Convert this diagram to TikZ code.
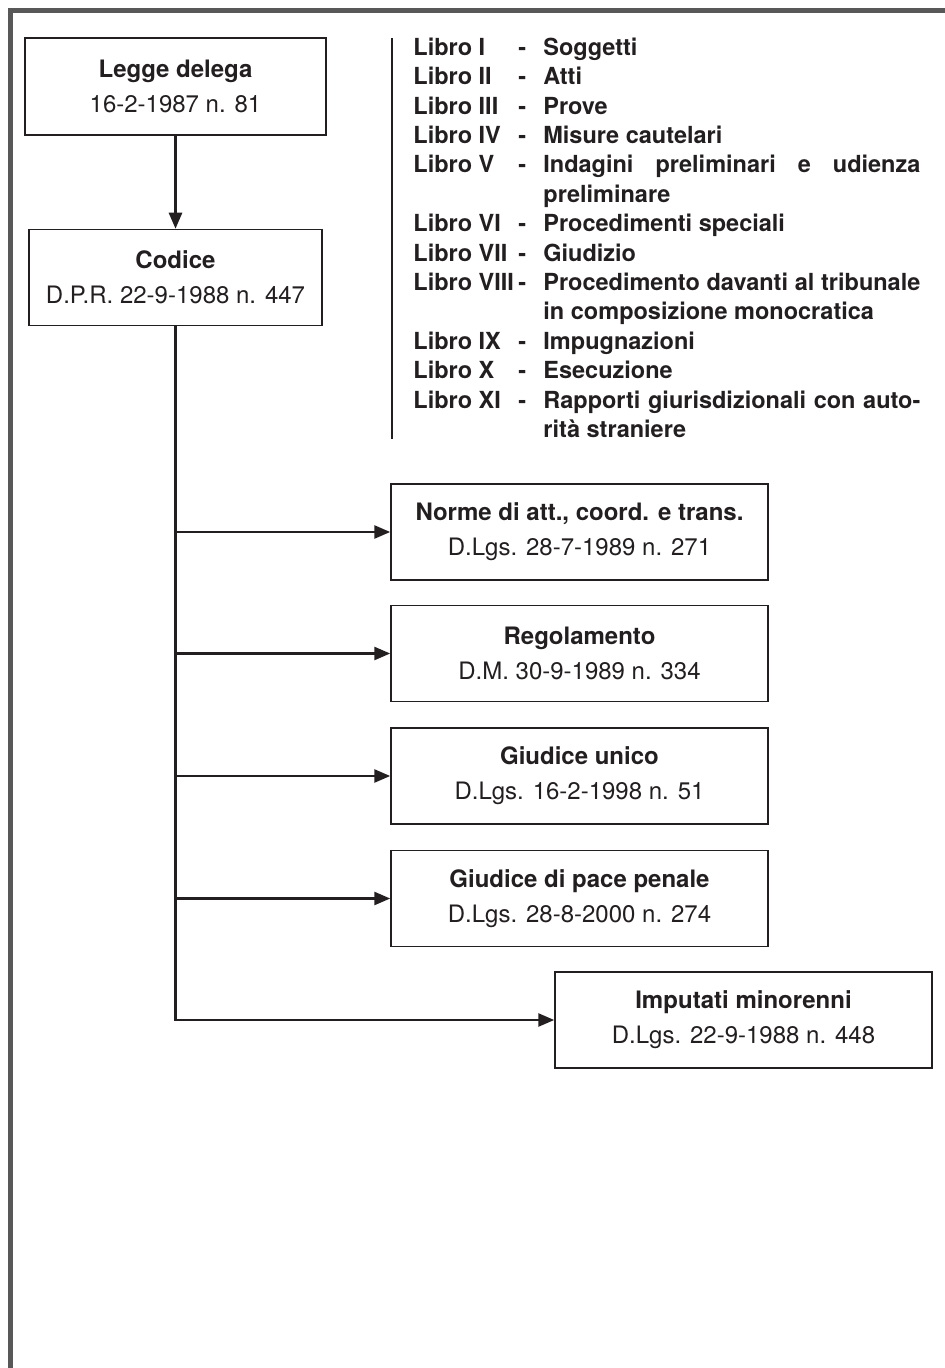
\documentclass[tikz,border=0pt]{standalone}
\usepackage{fontspec}
\setmainfont{TeX Gyre Heros}
\usetikzlibrary{arrows.meta, positioning}
\definecolor{framegray}{RGB}{88, 88, 88}
\definecolor{inkblack}{RGB}{35, 31, 32}

\newcommand{\rigapiena}[1]{\makebox[188.5pt][s]{#1}}

\begin{document}
\begin{tikzpicture}[
    x=0.5pt, y=-0.5pt,
    node distance=12pt and 10pt,
    legbox/.style={draw=inkblack, line width=0.75pt, fill=white, text=inkblack, align=center, font=\fontsize{12}{17.5}\selectfont, minimum width=188.5pt, minimum height=48pt, inner sep=0pt},
    booklist/.style={anchor=north west, inner sep=0pt, text=inkblack, font=\fontsize{11.75}{14.7}\selectfont\bfseries},
    arrow/.style={-{Triangle[length=8pt, width=6.5pt]}, line width=1.3pt, inkblack},
    bar/.style={line width=1pt, inkblack},
    frame/.style={line width=2.5pt, framegray}
]

\useasboundingbox (0,0) rectangle (945,1368);

% Page frame
\draw [frame] (10.7,1368) -- (10.7,10.7) -- (945,10.7);

% 1. Legge delega e Codice
\node (legge) [legbox, minimum width=150.5pt, minimum height=48.5pt] at (175.5,86.5) {\textbf{Legge delega}\\16-2-1987 n. 81};
\node (codice) [legbox, minimum width=146.5pt, below=46.5pt of legge] {\textbf{Codice}\\D.P.R. 22-9-1988 n. 447};

% 2. Libri del codice
\node (libri) [booklist] at (413,34.4) {%
  \begin{tabular}{@{}p{52.5pt}@{}p{12.5pt}@{}l@{}}
  Libro I    & - & Soggetti\\
  Libro II   & - & Atti\\
  Libro III  & - & Prove\\
  Libro IV   & - & Misure cautelari\\
  Libro V    & - & \rigapiena{Indagini preliminari e udienza}\\
             &   & preliminare\\
  Libro VI   & - & Procedimenti speciali\\
  Libro VII  & - & Giudizio\\
  Libro VIII & - & \rigapiena{Procedimento davanti al tribunale}\\
             &   & in composizione monocratica\\
  Libro IX   & - & Impugnazioni\\
  Libro X    & - & Esecuzione\\
  Libro XI   & - & \rigapiena{Rapporti giurisdizionali con auto-}\\
             &   & rità straniere
  \end{tabular}};
\draw [bar] ([xshift=-10.5pt, yshift=-1.8pt]libri.north west) -- ([xshift=-10.5pt, yshift=4pt]libri.south west);

% 3. Fonti collegate
\node (norme) [legbox] at (579.5,532) {\textbf{Norme di att., coord. e trans.}\\D.Lgs. 28-7-1989 n. 271};
\node (regol) [legbox, below=12pt of norme] {\textbf{Regolamento}\\D.M. 30-9-1989 n. 334};
\node (unico) [legbox, below=12.5pt of regol] {\textbf{Giudice unico}\\D.Lgs. 16-2-1998 n. 51};
\node (pace) [legbox, below=12.5pt of unico] {\textbf{Giudice di pace penale}\\D.Lgs. 28-8-2000 n. 274};
\node (minori) [legbox, below=12pt of pace, xshift=82pt] {\textbf{Imputati minorenni}\\D.Lgs. 22-9-1988 n. 448};

% Connectors
\draw [arrow] (legge) -- (codice);
\draw [arrow] (codice.south) |- (minori.west);
\draw [arrow] (codice.south |- norme.west) -- (norme.west);
\draw [arrow] (codice.south |- regol.west) -- (regol.west);
\draw [arrow] (codice.south |- unico.west) -- (unico.west);
\draw [arrow] (codice.south |- pace.west) -- (pace.west);

\end{tikzpicture}
\end{document}
